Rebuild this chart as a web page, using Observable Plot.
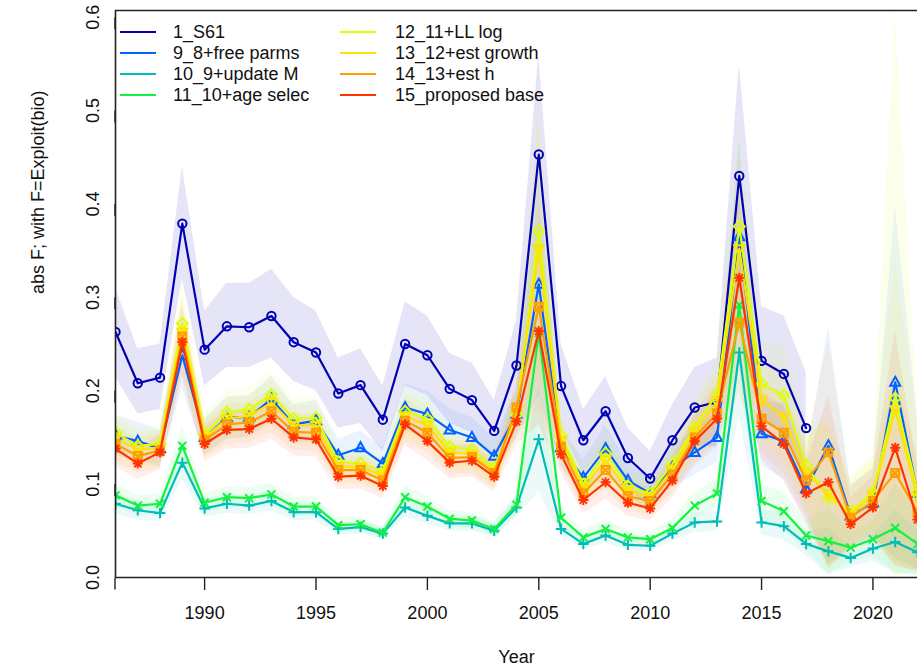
<!DOCTYPE html>
<html><head><meta charset="utf-8">
<script src="https://cdn.jsdelivr.net/npm/d3@7"></script>
<script src="https://cdn.jsdelivr.net/npm/@observablehq/plot@0.6"></script>
<style>
body{margin:0;background:#fff;}
#chart{position:relative;width:917px;height:672px;overflow:hidden;font-family:"Liberation Sans",Arial,sans-serif;}
#legend{position:absolute;left:0;top:0;}
.li{position:absolute;font-size:18px;color:#111;white-space:nowrap;line-height:20px;}
.li .sw{position:absolute;height:0;border-top:2.5px solid;}
</style></head><body><div id="chart"></div>
<script>
const years = [1986,1987,1988,1989,1990,1991,1992,1993,1994,1995,1996,1997,1998,1999,2000,2001,2002,2003,2004,2005,2006,2007,2008,2009,2010,2011,2012,2013,2014,2015,2016,2017,2018,2019,2020,2021,2022];
const seriesNames = ["1_S61","9_8+free parms","10_9+update M","11_10+age selec","12_11+LL log","13_12+est growth","14_13+est h","15_proposed base"];
const seriesColors = ["#0000B4","#0063FF","#00BEB4","#13F23F","#DDFE0B","#FEE201","#FF9E00","#FF3300"];
const xTicks = [1990,1995,2000,2005,2010,2015,2020];
const yTicks = [0,0.1,0.2,0.3,0.4,0.5,0.6];

// 1_S61 (1986-2017)
const s61 = [0.263,0.208,0.214,0.379,0.244,0.269,0.268,0.280,0.252,0.241,0.197,0.206,0.169,0.250,0.238,0.202,0.190,0.157,0.227,0.453,0.205,0.147,0.178,0.128,0.106,0.147,0.182,0.188,0.430,0.232,0.218,0.160];
const s61Lo = [0.215,0.175,0.180,0.320,0.205,0.225,0.225,0.235,0.210,0.200,0.160,0.165,0.135,0.205,0.195,0.165,0.155,0.125,0.180,0.350,0.160,0.110,0.140,0.095,0.075,0.110,0.140,0.140,0.310,0.170,0.155,0.100];
const s61Hi = [0.310,0.245,0.250,0.440,0.285,0.315,0.315,0.330,0.300,0.285,0.235,0.245,0.205,0.295,0.280,0.240,0.230,0.190,0.275,0.560,0.250,0.180,0.215,0.160,0.135,0.185,0.225,0.235,0.550,0.290,0.280,0.220];
const freeParms = [0.152,0.146,0.138,0.238,0.150,0.171,0.172,0.191,0.164,0.168,0.131,0.139,0.122,0.182,0.175,0.158,0.150,0.130,0.175,0.314,0.139,0.107,0.138,0.104,0.090,0.118,0.134,0.150,0.365,0.154,0.146,0.095,0.141,0.066,0.080,0.209,0.090];
const updateM = [0.079,0.072,0.069,0.123,0.074,0.079,0.077,0.082,0.070,0.070,0.052,0.054,0.047,0.075,0.066,0.058,0.058,0.050,0.075,0.148,0.052,0.036,0.045,0.035,0.034,0.047,0.059,0.060,0.241,0.059,0.055,0.036,0.028,0.021,0.031,0.038,0.027];
const ageSelec = [0.088,0.077,0.079,0.141,0.080,0.086,0.085,0.089,0.076,0.076,0.056,0.057,0.048,0.086,0.076,0.063,0.061,0.052,0.078,0.262,0.064,0.043,0.052,0.043,0.041,0.053,0.077,0.090,0.292,0.082,0.071,0.045,0.039,0.032,0.041,0.053,0.036];
const llLog = [0.155,0.141,0.143,0.272,0.154,0.177,0.180,0.196,0.170,0.171,0.124,0.122,0.114,0.178,0.170,0.140,0.137,0.118,0.174,0.371,0.152,0.100,0.133,0.098,0.090,0.122,0.161,0.197,0.376,0.207,0.195,0.120,0.085,0.071,0.091,0.192,0.092];
const estGrowth = [0.149,0.137,0.139,0.263,0.150,0.170,0.173,0.187,0.163,0.163,0.119,0.118,0.109,0.173,0.163,0.134,0.132,0.114,0.178,0.352,0.147,0.096,0.126,0.093,0.086,0.116,0.156,0.188,0.352,0.190,0.172,0.112,0.090,0.068,0.088,0.180,0.085];
const estH = [0.143,0.130,0.136,0.258,0.147,0.164,0.166,0.178,0.156,0.155,0.115,0.115,0.104,0.168,0.155,0.128,0.129,0.112,0.182,0.290,0.140,0.090,0.115,0.087,0.082,0.110,0.150,0.176,0.273,0.170,0.155,0.104,0.134,0.064,0.082,0.112,0.070];
const proposedBase = [0.138,0.122,0.134,0.252,0.143,0.158,0.159,0.170,0.150,0.148,0.108,0.109,0.098,0.164,0.146,0.123,0.125,0.108,0.167,0.264,0.132,0.083,0.102,0.080,0.074,0.104,0.146,0.170,0.321,0.162,0.143,0.090,0.102,0.057,0.075,0.139,0.062];
// relative half-width of the shaded intervals (models 9-15), and for 12_11+LL log
const relHalf = [0.14,0.14,0.14,0.15,0.13,0.13,0.13,0.13,0.13,0.13,0.13,0.13,0.14,0.14,0.14,0.14,0.14,0.15,0.15,0.38,0.15,0.18,0.18,0.18,0.18,0.18,0.18,0.18,0.28,0.22,0.28,0.35,0.90,0.50,0.45,0.90,0.90];
const relHalfLL = [0.14,0.14,0.14,0.15,0.13,0.13,0.13,0.13,0.13,0.13,0.13,0.13,0.14,0.14,0.14,0.14,0.14,0.15,0.15,0.38,0.15,0.18,0.18,0.18,0.18,0.18,0.18,0.18,0.28,0.22,0.28,0.35,0.90,0.50,0.45,2.20,0.90];

const yTop = 0.6072;
const valueSets = [s61, freeParms, updateM, ageSelec, llLog, estGrowth, estH, proposedBase];
const tables = valueSets.map((vals, i) => vals.map((v, j) => {
  let lo, hi;
  if (i === 0) { lo = s61Lo[j]; hi = s61Hi[j]; }
  else { const r = (i === 4 ? relHalfLL : relHalf)[j]; lo = v * (1 - r); hi = v * (1 + r); }
  return {series: seriesNames[i], year: years[j], value: v, lo: Math.max(0, lo), hi: Math.min(yTop, hi)};
}));

// R-like plotting symbols (pch 1..8), drawn as outlines
const sym = f => ({draw(c, size){ const r = Math.sqrt(size / Math.PI); f(c, r); }});
const symbols = [
  sym((c,r)=>{ c.moveTo(r,0); c.arc(0,0,r,0,2*Math.PI); }),
  sym((c,r)=>{ const h=r*1.2; c.moveTo(0,-h*1.1); c.lineTo(h,h*0.7); c.lineTo(-h,h*0.7); c.closePath(); }),
  sym((c,r)=>{ const h=r*1.25; c.moveTo(-h,0); c.lineTo(h,0); c.moveTo(0,-h); c.lineTo(0,h); }),
  sym((c,r)=>{ const h=r*0.95; c.moveTo(-h,-h); c.lineTo(h,h); c.moveTo(-h,h); c.lineTo(h,-h); }),
  sym((c,r)=>{ const h=r*1.3; c.moveTo(0,-h); c.lineTo(h,0); c.lineTo(0,h); c.lineTo(-h,0); c.closePath(); }),
  sym((c,r)=>{ const h=r*1.2; c.moveTo(0,h*1.1); c.lineTo(h,-h*0.7); c.lineTo(-h,-h*0.7); c.closePath(); }),
  sym((c,r)=>{ const h=r*0.95; c.moveTo(-h,-h); c.lineTo(h,-h); c.lineTo(h,h); c.lineTo(-h,h); c.closePath(); c.moveTo(-h,-h); c.lineTo(h,h); c.moveTo(-h,h); c.lineTo(h,-h); }),
  sym((c,r)=>{ const h=r*1.2, d=h*0.72; c.moveTo(-h,0); c.lineTo(h,0); c.moveTo(0,-h); c.lineTo(0,h); c.moveTo(-d,-d); c.lineTo(d,d); c.moveTo(-d,d); c.lineTo(d,-d); })
];

const marks = [];
tables.forEach((t, i) => marks.push(Plot.areaY(t, {x: "year", y1: "lo", y2: "hi", fill: seriesColors[i], fillOpacity: i === 0 ? 0.1 : 0.08, clip: true})));
tables.forEach((t, i) => {
  marks.push(Plot.line(t, {x: "year", y: "value", stroke: seriesColors[i], strokeWidth: 2.2, clip: true}));
  marks.push(Plot.dot(t, {x: "year", y: "value", symbol: symbols[i], r: 4.2, stroke: seriesColors[i], strokeWidth: 2, fill: "none", clip: true}));
});

const chart = Plot.plot({
  width: 917, height: 672,
  marginLeft: 115, marginRight: 0, marginTop: 10, marginBottom: 95,
  style: {fontFamily: "'Liberation Sans', Arial, sans-serif", fontSize: "18px", color: "#111", background: "#fff"},
  x: {domain: [1986, 2022]},
  y: {domain: [0, yTop]},
  marks: [
    ...marks,
    Plot.ruleY([0, yTop], {stroke: "#222", strokeWidth: 1.6}),
    Plot.ruleX([1986], {stroke: "#222", strokeWidth: 1.6}),
    Plot.axisX({ticks: xTicks, tickSize: 13, tickPadding: 16, tickFormat: d => String(d), fontSize: 18, stroke: "#222", strokeWidth: 1.4, label: null}),
    Plot.axisY({ticks: yTicks, tickSize: 12, tickPadding: 10, tickFormat: d3.format(".1f"), rotate: -90, textAnchor: "middle", fontSize: 18, stroke: "#222", strokeWidth: 1.4, label: null}),
    Plot.text(["abs F; with F=Exploit(bio)"], {frameAnchor: "left", dx: -77, rotate: -90, text: d => d, fontSize: 18, fill: "#111"}),
    Plot.text(["Year"], {frameAnchor: "bottom", dy: 85, text: d => d, fontSize: 18, fill: "#111"})
  ]
});
const root = document.getElementById("chart");
root.appendChild(chart);

// legend (two columns, inside the plot, top-left)
const legend = document.createElement("div");
legend.id = "legend";
seriesNames.forEach((name, i) => {
  const col = Math.floor(i / 4), row = i % 4;
  const lineX = col === 0 ? 120 : 340, textX = col === 0 ? 173 : 395;
  const yc = 32 + row * 21;
  const it = document.createElement("div");
  it.className = "li";
  it.style.left = textX + "px"; it.style.top = (yc - 10) + "px";
  it.textContent = name;
  const sw = document.createElement("span");
  sw.className = "sw";
  sw.style.borderColor = seriesColors[i];
  sw.style.left = (lineX - textX) + "px"; sw.style.width = "36px"; sw.style.top = "9px";
  it.appendChild(sw);
  legend.appendChild(it);
});
root.appendChild(legend);
</script>
</body></html>
